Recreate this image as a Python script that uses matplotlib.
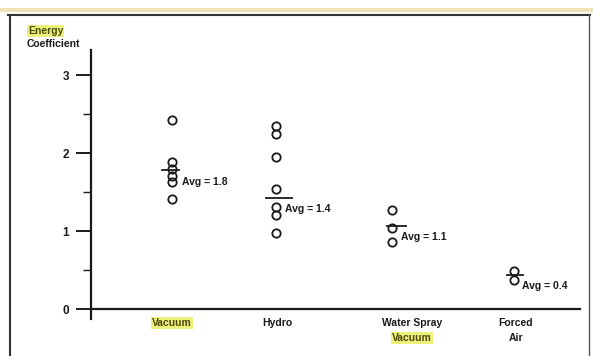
import matplotlib.pyplot as plt
from matplotlib.lines import Line2D
from matplotlib.patches import Rectangle

plt.rcParams['font.family'] = ['Liberation Sans', 'DejaVu Sans']

# data
categories = ["Vacuum", "Hydro", "Water Spray\nVacuum", "Forced\nAir"]
vacuum = [2.42, 1.89, 1.80, 1.71, 1.63, 1.41]
hydro = [2.34, 2.24, 1.95, 1.54, 1.31, 1.21, 0.98]
water_spray = [1.27, 1.04, 0.86]
forced_air = [0.49, 0.37]
series = [vacuum, hydro, water_spray, forced_air]
avg_values = [1.78, 1.42, 1.07, 0.44]
avg_labels = ["Avg = 1.8", "Avg = 1.4", "Avg = 1.1", "Avg = 0.4"]

# layout (x in pixel-like units along the axis)
W, H = 593, 356
label_x = [172, 277, 412, 516]
point_x = [172, 276, 392, 514]
line_span = [(-10, 7), (-10, 16), (-5, 14), (-7, 9)]
text_pos = [(182, 1.63), (285, 1.28), (401, 0.92), (522, 0.30)]
highlight = '#eef07c'
ink = '#1a1a1a'

fig = plt.figure(figsize=(W / 100, H / 100), dpi=100)
ax_left, ax_right, ax_bot, ax_top = 91, 580, 319, 50
ax = fig.add_axes([ax_left / W, 1 - ax_bot / H, (ax_right - ax_left) / W, (ax_bot - ax_top) / H])
ax.set_xlim(ax_left, ax_right)
ymin = -(ax_bot - 309) / 78
ymax = (309 - ax_top) / 78
ax.set_ylim(ymin, ymax)

for xs, ys, avg, span, lab, tp in zip(point_x, series, avg_values, line_span, avg_labels, text_pos):
    ax.plot([xs] * len(ys), ys, 'o', ms=6, mfc='none', mec=ink, mew=1.3, clip_on=False)
    ax.plot([xs + span[0], xs + span[1]], [avg, avg], color=ink, lw=1.3)
    ax.text(tp[0], tp[1], lab, fontsize=7.5, fontweight='bold', color=ink, va='center', ha='left')

for sp in ['top', 'right']:
    ax.spines[sp].set_visible(False)
ax.spines['bottom'].set_position(('data', 0))
ax.spines['left'].set_linewidth(1.6)
ax.spines['bottom'].set_linewidth(1.6)
ax.spines['left'].set_color(ink)
ax.spines['bottom'].set_color(ink)

ax.set_yticks([0, 1, 2, 3])
ax.set_yticks([0.5, 1.5, 2.5], minor=True)
ax.set_yticklabels(['0', '1', '2', '3'], fontsize=8.5, fontweight='bold', color=ink)
ax.tick_params(axis='y', which='major', length=11, width=1.4, color=ink, pad=5)
ax.tick_params(axis='y', which='minor', length=6, width=1.0, color=ink)
ax.set_xticks([])

for x, cat in zip(label_x, categories):
    lines = cat.split("\n")
    for i, ln in enumerate(lines):
        yy = 1 - (323 + 15 * i) / H
        is_hl = ln == "Vacuum"
        fig.text(x / W, yy, ln, fontsize=7.5, fontweight='bold', ha='center', va='center',
                 color='#4a4a08' if is_hl else ink,
                 bbox=dict(boxstyle='square,pad=0.1', fc=highlight, ec='none') if is_hl else None)

fig.text(28 / W, 1 - 31 / H, "Energy", fontsize=7.5, fontweight='bold', ha='left', va='center',
         color='#4a4a08', bbox=dict(boxstyle='square,pad=0.1', fc=highlight, ec='none'))
fig.text(27 / W, 1 - 44 / H, "Coefficient", fontsize=7.5, fontweight='bold', ha='left', va='center', color=ink)

# frame of the scanned figure
fig.add_artist(Rectangle((0, 1 - 12 / H), 1, 4 / H, transform=fig.transFigure, fc='#f2e2bc', ec='none'))
fig.add_artist(Line2D([8 / W, 590 / W], [1 - 15 / H, 1 - 15 / H], transform=fig.transFigure, color='#333333', lw=1.5))
fig.add_artist(Line2D([10 / W, 10 / W], [0, 1 - 15 / H], transform=fig.transFigure, color='#333333', lw=1.5))
fig.add_artist(Line2D([589 / W, 589 / W], [0, 1 - 15 / H], transform=fig.transFigure, color='#555555', lw=1.0))

fig.savefig("out.png", dpi=100)
